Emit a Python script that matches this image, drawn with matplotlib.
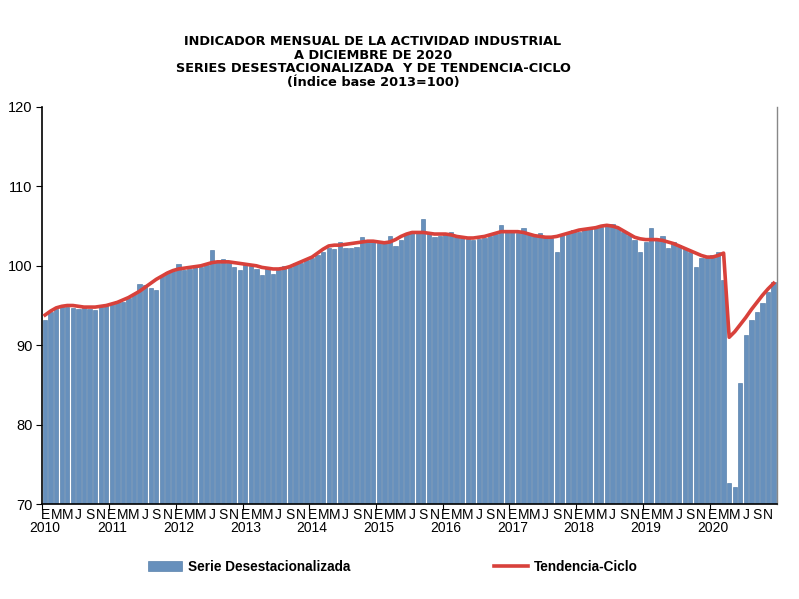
import matplotlib
matplotlib.use("Agg")
import matplotlib.pyplot as plt
import matplotlib.transforms as mtransforms
import numpy as np

years = [str(y) for y in range(2010, 2021)]
month_letters = ["E", "M", "M", "J", "S", "N"]

serie = [
    # 2010
    93.2, 94.2, 94.6, 95.0, 94.8, 94.7, 94.6, 94.9, 94.6, 94.4, 95.0, 95.2,
    # 2011
    95.3, 95.6, 95.4, 96.0, 96.4, 97.7, 97.6, 97.2, 97.0, 98.8, 99.2, 99.4,
    # 2012
    100.2, 99.5, 99.6, 99.8, 99.9, 100.1, 102.0, 100.4, 100.8, 100.3, 99.9, 99.5,
    # 2013
    100.4, 100.0, 99.6, 98.8, 99.7, 99.0, 99.5, 100.0, 99.9, 100.3, 100.4, 100.7,
    # 2014
    101.0, 101.3, 101.8, 102.3, 102.1, 103.0, 102.3, 102.2, 102.4, 103.6, 103.0, 103.1,
    # 2015
    103.0, 103.1, 103.7, 102.5, 103.3, 104.0, 104.4, 104.3, 105.9, 104.2, 103.6, 103.8,
    # 2016
    104.0, 104.3, 103.6, 103.5, 103.4, 103.2, 103.4, 103.5, 103.8, 104.0, 105.1, 104.2,
    # 2017
    104.3, 104.1, 104.8, 104.0, 103.8, 104.1, 103.7, 103.5, 101.8, 103.9, 104.1, 104.5,
    # 2018
    104.3, 104.6, 104.7, 104.9, 104.9, 105.2, 105.3, 104.7, 104.3, 103.9, 103.2, 101.8,
    # 2019
    103.0, 104.8, 103.2, 103.7, 102.2, 103.0, 102.6, 102.2, 101.8, 99.9, 101.0, 101.2,
    # 2020
    101.3, 101.8, 98.2, 72.6, 72.1, 85.2, 91.3, 93.2, 94.2, 95.3, 96.7, 97.9,
]

tendencia = [
    # 2010
    93.8, 94.3, 94.7, 94.9, 95.0, 95.0, 94.9, 94.8, 94.8, 94.8, 94.9, 95.0,
    # 2011
    95.2, 95.4, 95.7, 96.0, 96.4, 96.8, 97.3, 97.8, 98.3, 98.7, 99.1, 99.4,
    # 2012
    99.6, 99.7, 99.8, 99.9, 100.0, 100.2, 100.4, 100.5, 100.5, 100.5, 100.4, 100.3,
    # 2013
    100.2, 100.1, 100.0, 99.8, 99.7, 99.6, 99.6, 99.7, 99.9, 100.2, 100.5, 100.8,
    # 2014
    101.1, 101.6, 102.1, 102.5, 102.6, 102.6, 102.7, 102.8, 102.9, 103.0, 103.1, 103.1,
    # 2015
    103.0, 102.9, 103.0, 103.3, 103.7, 104.0, 104.2, 104.2, 104.2, 104.1, 104.0, 104.0,
    # 2016
    104.0, 103.9, 103.7, 103.6, 103.5, 103.5, 103.6, 103.7, 103.9, 104.1, 104.3, 104.3,
    # 2017
    104.3, 104.3, 104.2, 104.0, 103.8, 103.7, 103.6, 103.6, 103.7, 103.9, 104.1, 104.3,
    # 2018
    104.5, 104.6, 104.7, 104.8, 105.0, 105.1, 105.0, 104.8, 104.4, 104.0, 103.6, 103.4,
    # 2019
    103.3, 103.3, 103.3, 103.2, 103.0, 102.8, 102.5, 102.2, 101.9, 101.6, 101.3, 101.1,
    # 2020
    101.1, 101.3, 101.6, 91.0, 91.7, 92.6, 93.5, 94.5, 95.4, 96.3, 97.1, 97.8,
]

titulo = ("INDICADOR MENSUAL DE LA ACTIVIDAD INDUSTRIAL\n"
          "A DICIEMBRE DE 2020\n"
          "SERIES DESESTACIONALIZADA  Y DE TENDENCIA-CICLO\n"
          "(Índice base 2013=100)")

plt.rcParams["font.family"] = ["Liberation Sans", "DejaVu Sans"]

fig = plt.figure(figsize=(7.99, 5.99), dpi=100)
ax = fig.add_axes([42 / 799, 1 - 504 / 599, (777 - 42) / 799, (504 - 107) / 599])

x = np.arange(len(serie))
bars = ax.bar(x, serie, width=0.78, color="#6790bc", edgecolor="#44709f",
              linewidth=0.4, label="Serie Desestacionalizada", zorder=2)
line, = ax.plot(x, tendencia, color="#d8413b", linewidth=2.6,
                label="Tendencia-Ciclo", zorder=3)

ax.set_ylim(70, 120)
ax.set_xlim(-0.55, 131.6)
ax.set_yticks(range(70, 121, 10))
ax.tick_params(axis="y", direction="out", length=4, labelsize=10.5, pad=3)

# year boundary ticks
ax.set_xticks([12 * i - 0.5 for i in range(len(years))])
ax.set_xticklabels([])
ax.tick_params(axis="x", which="major", direction="out", length=4)

# month letters
minor_pos = []
minor_lab = []
for i in range(len(years)):
    for j, lab in enumerate(month_letters):
        minor_pos.append(12 * i + 2 * j)
        minor_lab.append(lab)
ax.set_xticks(minor_pos, minor=True)
ax.set_xticklabels(minor_lab, minor=True, fontsize=10)
ax.tick_params(axis="x", which="minor", length=0, pad=3)

trans = mtransforms.blended_transform_factory(ax.transData, ax.transAxes)
for i, yr in enumerate(years):
    ax.text(12 * i, -0.06, yr, transform=trans, ha="center", va="center",
            fontsize=10)

ax.spines["top"].set_visible(False)
ax.spines["right"].set_color("#888888")
ax.spines["right"].set_linewidth(1.0)
ax.spines["left"].set_linewidth(1.2)
ax.spines["bottom"].set_linewidth(1.2)

fig.text(373 / 799, 1 - 62 / 599, titulo, ha="center", va="center",
         fontsize=9.3, fontweight="bold", linespacing=1.05,
         family=["DejaVu Sans"])

fig.legend(handles=[bars, line], labels=["Serie Desestacionalizada", "Tendencia-Ciclo"],
           loc="center", bbox_to_anchor=(393 / 799, 1 - 567 / 599), ncol=2,
           frameon=False, columnspacing=10.6, handlelength=2.5, handletextpad=0.4,
           prop={"weight": "bold", "size": 9.8})

fig.savefig("out.png", dpi=100)
